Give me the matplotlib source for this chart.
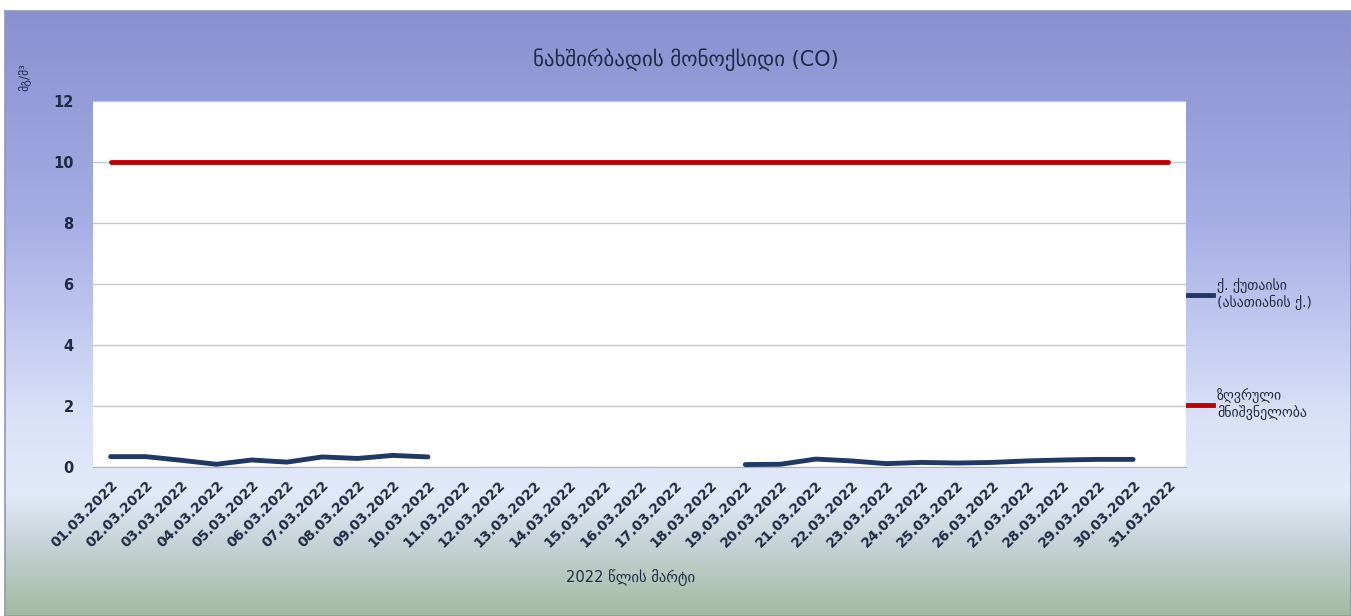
import numpy as np
import matplotlib
matplotlib.use("Agg")
import matplotlib.pyplot as plt
from matplotlib.colors import LinearSegmentedColormap
from matplotlib.lines import Line2D

# data
days = ["%02d.03.2022" % d for d in range(1, 32)]
kutaisi = [0.34, 0.34, 0.22, 0.09, 0.23, 0.16, 0.33, 0.28, 0.38, 0.33,
           None, None, None, None, None, None, None, None,
           0.08, 0.09, 0.26, 0.20, 0.11, 0.15, 0.13, 0.15, 0.20, 0.23, 0.25, 0.25, 0.21,
           None][:31]
limit = [10] * 31
yticks = [0, 2, 4, 6, 8, 10, 12]

kutaisi = np.array([np.nan if v is None else v for v in kutaisi], dtype=float)
kutaisi[30] = np.nan  # no value for 31.03

plt.rcParams['font.family'] = ['DejaVu Sans']
txt = '#1f2a44'

fig = plt.figure(figsize=(13.51, 6.16), dpi=100)

# gradient background box
bg = fig.add_axes([0.004, 0.0, 0.996, 0.982])
cmap = LinearSegmentedColormap.from_list('bg', [
    (0.0, '#8890d0'), (0.35, '#a6aee6'), (0.68, '#dbe2f8'),
    (0.80, '#e2e9f8'), (0.88, '#c6d3d8'), (1.0, '#a3bb9f')])
grad = np.linspace(0, 1, 256).reshape(-1, 1)
bg.imshow(grad, aspect='auto', cmap=cmap, extent=[0, 1, 0, 1], origin='upper')
bg.set_xlim(0, 1)
bg.set_ylim(0, 1)
for s in bg.spines.values():
    s.set_edgecolor('#8f98b8')
    s.set_linewidth(1.2)
bg.set_xticks([])
bg.set_yticks([])
bg.set_zorder(0)

ax = fig.add_axes([93 / 1351, 1 - 467 / 616, (1186 - 93) / 1351, (467 - 101) / 616])
ax.set_zorder(1)
ax.set_facecolor('white')
x = np.arange(len(days))
ax.plot(x, limit, color='#c00000', lw=3.5, solid_capstyle='round', zorder=3)
ax.plot(x, kutaisi, color='#1f3864', lw=3.5, solid_capstyle='round', zorder=4)

ax.set_xlim(-0.5, len(days) - 0.5)
ax.set_ylim(0, 12)
ax.set_yticks(yticks)
ax.set_yticklabels([str(v) for v in yticks], fontsize=10.5, fontweight='bold', color=txt)
ax.yaxis.grid(True, color='#c8c8c8', lw=1)
ax.set_axisbelow(True)
ax.set_xticks(x)
ax.set_xticklabels(days, rotation=45, ha='right', rotation_mode='anchor',
                   fontsize=10, fontweight='bold', color=txt)
ax.tick_params(axis='y', length=0, pad=14)
ax.tick_params(axis='x', length=0, pad=8)
for side in ['top', 'right', 'left']:
    ax.spines[side].set_visible(False)
ax.spines['bottom'].set_color('#b0b0b0')

fig.text(0.508, 0.903, 'ნახშირბადის მონოქსიდი (CO)', ha='center', va='center',
         fontsize=15, color=txt)
fig.text(0.018, 0.875, 'მგ/მ³', rotation=90, ha='center', va='center',
         fontsize=8.5, color=txt)
fig.text(0.467, 0.062, '2022 წლის მარტი', ha='center', va='center',
         fontsize=10.5, color=txt)

handles = [Line2D([], [], color='#1f3864', lw=3.5),
           Line2D([], [], color='#c00000', lw=3.5)]
labels = ['ქ. ქუთაისი\n(ასათიანის ქ.)', 'ზღვრული\nმნიშვნელობა']
fig.legend(handles, labels, loc='upper left', bbox_to_anchor=(1188 / 1351, 1 - 278 / 616),
           frameon=False, fontsize=10, handlelength=1.8, handletextpad=0.3,
           labelspacing=5.6, labelcolor=txt, borderaxespad=0, borderpad=0)

fig.savefig('out.png', dpi=100)
